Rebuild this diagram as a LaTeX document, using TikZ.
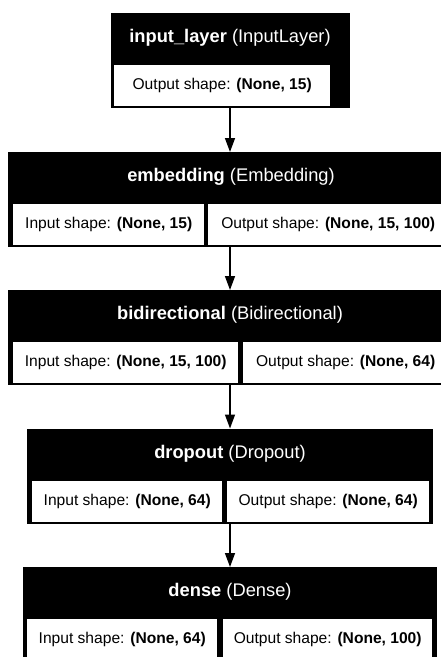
\documentclass[tikz,border=0pt]{standalone}
\usepackage{fontspec}
\setmainfont{Liberation Sans}
\usetikzlibrary{arrows.meta}

\begin{document}
\begin{tikzpicture}[x=1pt,y=-1pt,
		layer/.style={fill=black,inner sep=0pt,minimum height=95pt,anchor=north},
		title/.style={text=white,inner sep=0pt,font=\fontsize{18.3}{22}\selectfont},
		cell/.style={fill=white,inner sep=0pt,minimum height=41pt,anchor=north west,font=\fontsize{15.6}{19}\selectfont},
		flow/.style={line width=1.5pt,-{Triangle[length=14pt,width=10pt]}}]
		\useasboundingbox (0,0) rectangle (441,657);
		\clip (0,0) rectangle (441,657);
		% input_layer
		\node[layer,minimum width=239pt](input) at (230,13){};
		\node[title](input-t) at (230,38){\textbf{input\_layer} (InputLayer)};
		\node[cell,minimum width=216pt](input-out) at (114,65){Output shape: \textbf{(None, 15)}};
		% embedding
		\node[layer,minimum width=444pt](emb) at (230,152){};
		\node[title](emb-t) at (231,177){\textbf{embedding} (Embedding)};
		\node[cell,minimum width=191pt](emb-in) at (13,204){Input shape: \textbf{(None, 15)}};
		\node[cell,minimum width=240pt](emb-out) at (208,204){Output shape: \textbf{(None, 15, 100)}};
		% bidirectional
		\node[layer,minimum width=444pt](bidi) at (230,290){};
		\node[title](bidi-t) at (230,315){\textbf{bidirectional} (Bidirectional)};
		\node[cell,minimum width=225pt](bidi-in) at (13,342){Input shape: \textbf{(None, 15, 100)}};
		\node[cell,minimum width=205pt](bidi-out) at (243,342){Output shape: \textbf{(None, 64)}};
		% dropout
		\node[layer,minimum width=406pt](drop) at (230,428.5){};
		\node[title](drop-t) at (230,453.5){\textbf{dropout} (Dropout)};
		\node[cell,minimum width=190pt](drop-in) at (32,480.5){Input shape: \textbf{(None, 64)}};
		\node[cell,minimum width=202pt](drop-out) at (227,480.5){Output shape: \textbf{(None, 64)}};
		% dense
		\node[layer,minimum width=414pt](dense) at (230,567){};
		\node[title](dense-t) at (230,592){\textbf{dense} (Dense)};
		\node[cell,minimum width=190pt](dense-in) at (27,619){Input shape: \textbf{(None, 64)}};
		\node[cell,minimum width=209pt](dense-out) at (223,619){Output shape: \textbf{(None, 100)}};
		% connectors
		\draw[flow](input.south)--(emb.north);
		\draw[flow](emb.south)--(bidi.north);
		\draw[flow](bidi.south)--(drop.north);
		\draw[flow](drop.south)--(dense.north);
	\end{tikzpicture}
\end{document}
